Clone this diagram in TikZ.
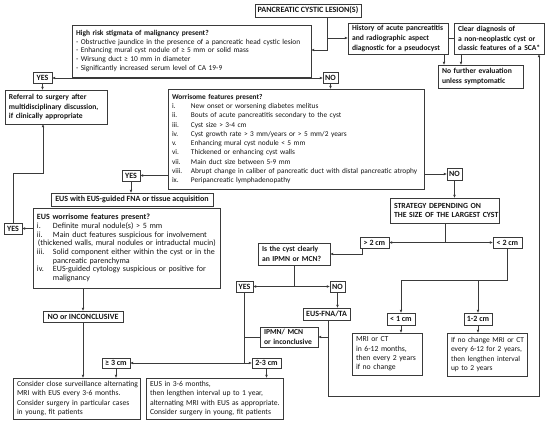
\documentclass[tikz,border=0pt]{standalone}
\usepackage{fontspec}
\setmainfont{Carlito}
\usetikzlibrary{arrows.meta}
\definecolor{lncol}{HTML}{3A3A3A}
\definecolor{txcol}{HTML}{141414}
\newcommand\mkbox[7][]{\node[bx,#1,minimum width={(#5)-(#3)},minimum height={(#6)-(#4)},text width={(#5)-(#3)-8}] (#2) at ({((#3)+(#5))/2},{((#4)+(#6))/2}) {#7};}
\newcommand\smbox[7][]{\node[sbx,#1,minimum width={(#5)-(#3)},minimum height={(#6)-(#4)}] (#2) at ({((#3)+(#5))/2},{((#4)+(#6))/2}) {#7};}
\newcommand\itm[3]{\mbox{\makebox[#1][l]{#2}#3}}
\begin{document}
\begin{tikzpicture}[x=1pt,y=-1pt,
  bx/.style={draw=lncol,line width=0.8pt,inner xsep=4pt,inner ysep=1pt,outer sep=0pt,align=left,font=\fontsize{7.45}{8.8}\selectfont,text=txcol},
  bbx/.style={font=\fontsize{7.6}{9.8}\selectfont\bfseries},
  sbx/.style={draw=lncol,line width=0.8pt,inner sep=0pt,outer sep=0pt,align=center,font=\fontsize{8}{9}\selectfont\bfseries,text=txcol},
  ln/.style={draw=lncol,line width=0.8pt},
  arr/.style={ln,-{Latex[length=3.2pt,width=2.8pt]}}]
\useasboundingbox (0,0) rectangle (550,423);

% boxes
\smbox[font=\fontsize{8.1}{9}\selectfont\bfseries]{panc}{255}{4}{361}{17}{PANCREATIC CYSTIC LESION(S)}
\mkbox{hr}{72}{25}{311}{77}{\textbf{High risk stigmata of malignancy present?}\\
\mbox{- Obstructive jaundice in the presence of a pancreatic head cystic lesion}\\
\mbox{- Enhancing mural cyst nodule of ≥ 5 mm or solid mass}\\
\mbox{- Wirsung duct ≥ 10 mm in diameter}\\
\mbox{- Significantly increased serum level of CA 19-9}}
\mkbox[bbx]{hist}{348}{23}{448}{54}{\mbox{History of acute pancreatitis}\\\mbox{and radiographic aspect}\\\mbox{diagnostic for a pseudocyst}}
\mkbox[bbx]{clear}{454}{23}{544}{54}{\mbox{Clear diagnosis of}\\\mbox{a non-neoplastic cyst or}\\\mbox{classic features of a SCA*}}
\mkbox[bbx]{nofurther}{438}{65}{523}{88}{\mbox{No further evaluation}\\\mbox{unless symptomatic}}
\smbox{yesa}{33}{72.5}{52}{83.5}{YES}
\smbox{noa}{323}{72.5}{338}{83.5}{NO}
\mkbox[bbx]{referral}{5}{90}{107}{124}{\mbox{Referral to surgery after}\\\mbox{multidisciplinary discussion,}\\\mbox{if clinically appropriate}}
\mkbox[font=\fontsize{7.35}{9.3}\selectfont]{worr}{168}{89}{424}{189}{\textbf{Worrisome features present?}\\
\itm{19pt}{i.}{New onset or worsening diabetes melitus}\\
\itm{19pt}{ii.}{Bouts of acute pancreatitis secondary to the cyst}\\
\itm{19pt}{iii.}{Cyst size > 3-4 cm}\\
\itm{19pt}{iv.}{Cyst growth rate > 3 mm/years or > 5 mm/2 years}\\
\itm{19pt}{v.}{Enhancing mural cyst nodule < 5 mm}\\
\itm{19pt}{vi.}{Thickened or enhancing cyst walls}\\
\itm{19pt}{vii.}{Main duct size between 5-9 mm}\\
\itm{19pt}{viii.}{Abrupt change in caliber of pancreatic duct with distal pancreatic atrophy}\\
\itm{19pt}{ix.}{Peripancreatic lymphadenopathy}}
\smbox{yesb}{122}{170}{140}{181}{YES}
\smbox{nob}{447}{168}{462}{180}{NO}
\mkbox[font=\fontsize{7.8}{9.6}\selectfont\bfseries]{strategy}{390}{198}{499}{223}{\mbox{STRATEGY DEPENDING ON}\\\mbox{THE SIZE OF THE LARGEST CYST}}
\smbox{eusfna}{51}{193}{213}{206}{EUS with EUS-guided FNA or tissue acquisition}
\mkbox[font=\fontsize{8}{8.7}\selectfont]{euswor}{33}{208}{220}{288}{\textbf{EUS worrisome features present?}\\
\itm{16pt}{i.}{Definite mural nodule(s) > 5 mm}\\
\itm{16pt}{ii.}{Main duct features suspicious for involvement}\\
\mbox{\hspace*{1pt}(thickened walls, mural nodules or intraductal mucin)}\\
\itm{16pt}{iii.}{Solid component either within the cyst or in the}\\
\mbox{\hspace*{16pt}pancreatic parenchyma}\\
\itm{16pt}{iv.}{EUS-guided cytology suspicious or positive for}\\
\mbox{\hspace*{16pt}malignancy}}
\smbox{yesc}{4}{223}{22}{234}{YES}
\smbox{noinc}{43}{311}{123}{322}{NO or INCONCLUSIVE}
\smbox{geth}{102}{358}{130}{368}{≥ 3 cm}
\smbox{btw}{252}{358}{281}{368}{2-3 cm}
\mkbox[font=\fontsize{7.6}{9.2}\selectfont]{close}{13}{378}{140}{419}{\mbox{Consider close surveillance alternating}\\\mbox{MRI with EUS every 3-6 months.}\\\mbox{Consider surgery in particular cases}\\\mbox{in young, fit patients}}
\mkbox[font=\fontsize{7.6}{9.2}\selectfont]{eusmo}{146}{378}{283}{419}{\mbox{EUS in 3-6 months,}\\\mbox{then lengthen interval up to 1 year,}\\\mbox{alternating MRI with EUS as appropriate.}\\\mbox{Consider surgery in young, fit patients}}
\mkbox[bbx]{isthe}{258}{243}{330}{265}{\mbox{Is the cyst clearly}\\\mbox{an IPMN or MCN?}}
\smbox{gttwo}{360}{237}{389}{248}{> 2 cm}
\smbox{lttwo}{493}{237}{522}{248}{< 2 cm}
\smbox{yesd}{236}{281}{253}{292}{YES}
\smbox{nod}{330}{281}{345}{292}{NO}
\smbox{fnata}{303}{308}{350}{320}{EUS-FNA/TA}
\mkbox[bbx]{ipmn}{260}{327}{318}{347}{\mbox{IPMN/ MCN}\\\mbox{or inconclusive}}
\smbox{ltone}{387}{313}{415}{325}{< 1 cm}
\smbox{onetwo}{464}{313}{492}{325}{1-2 cm}
\mkbox[font=\fontsize{7.7}{9.4}\selectfont]{mri}{352}{333}{422}{375}{\mbox{MRI or CT}\\\mbox{in 6-12 months,}\\\mbox{then every 2 years}\\\mbox{if no change}}
\mkbox[font=\fontsize{7.5}{9.4}\selectfont]{ifno}{447}{333}{527}{376}{\mbox{If no change MRI or CT}\\\mbox{every 6-12 for 2 years,}\\\mbox{then lengthen interval}\\\mbox{up to 2 years}}

% junction coordinates
\coordinate (pa) at (327,38);
\coordinate (pb) at (327,50);
\coordinate (ha) at (444,54);
\coordinate (ca) at (461,54);
\coordinate (ja) at (192,78);
\coordinate (ka) at (43,173);
\coordinate (ga) at (362,254);
\coordinate (sa) at (445,242.5);
\coordinate (sb) at (507.5,280);
\coordinate (ia) at (294,286.5);
\coordinate (fa) at (328,396);
\coordinate (fb) at (539,396);
\coordinate (ya) at (244.5,363);

% connectors
\draw[arr] (panc.south -| pa) -- (pa) -- (hist.west |- pa);
\draw[arr] (pa) -- (pb) -- (hr.east |- pb);
\draw[ln] (hist.east |- pa) -- (clear.west |- pa);
\draw[arr] (hist.south -| ha) -- (nofurther.north -| ha);
\draw[arr] (clear.south -| ca) -- (nofurther.north -| ca);
\draw[ln] (hr.south -| ja) -- (ja);
\draw[arr] (ja) -- (yesa.east);
\draw[arr] (ja) -- (noa.west);
\draw[arr] (yesa.south) -- (referral.north -| yesa.south);
\draw[arr] (noa.south) -- (worr.north -| noa.south);
\draw[arr] (worr.west |- yesb.east) -- (yesb.east);
\draw[arr] (yesb.south) -- (eusfna.north -| yesb.south);
\draw[arr] (worr.east |- nob.west) -- (nob.west);
\draw[arr] (nob.south) -- (strategy.north -| nob.south);
\draw[arr] (euswor.west |- yesc.east) -- (yesc.east);
\draw[arr] (yesc.north) -- (yesc.north |- ka) -- (ka) -- (referral.south -| ka);
\draw[arr] (euswor.south -| noinc.north) -- (noinc.north);
\draw[arr] (noinc.south) -- (close.north -| noinc.south);
\draw[ln] (strategy.south -| sa) -- (sa);
\draw[arr] (sa) -- (gttwo.east);
\draw[arr] (sa) -- (lttwo.west);
\draw[arr] (gttwo.south -| ga) -- (ga) -- (isthe.east |- ga);
\draw[arr] (lttwo.south) -- (sb) -- (ltone.north |- sb) -- (ltone.north);
\draw[arr] (onetwo.north |- sb) -- (onetwo.north);
\draw[arr] (ltone.south) -- (mri.north -| ltone.south);
\draw[arr] (onetwo.south) -- (ifno.north -| onetwo.south);
\draw[ln] (isthe.south -| ia) -- (ia);
\draw[arr] (ia) -- (yesd.east);
\draw[arr] (ia) -- (nod.west);
\draw[arr] (nod.south) -- (fnata.north -| nod.south);
\draw[arr] (fnata.south -| fa) -- (fa) -- (fb) -- (clear.south -| fb);
\draw[arr] (fa |- ipmn.east) -- (ipmn.east);
\draw[ln] (yesd.south) -- (ya);
\draw[ln] (ipmn.west) -- (ya |- ipmn.west);
\draw[arr] (ya) -- (geth.east);
\draw[arr] (ya) -- (btw.west);
\draw[arr] (geth.south) -- (close.north -| geth.south);
\draw[arr] (btw.south) -- (eusmo.north -| btw.south);
\end{tikzpicture}
\end{document}
